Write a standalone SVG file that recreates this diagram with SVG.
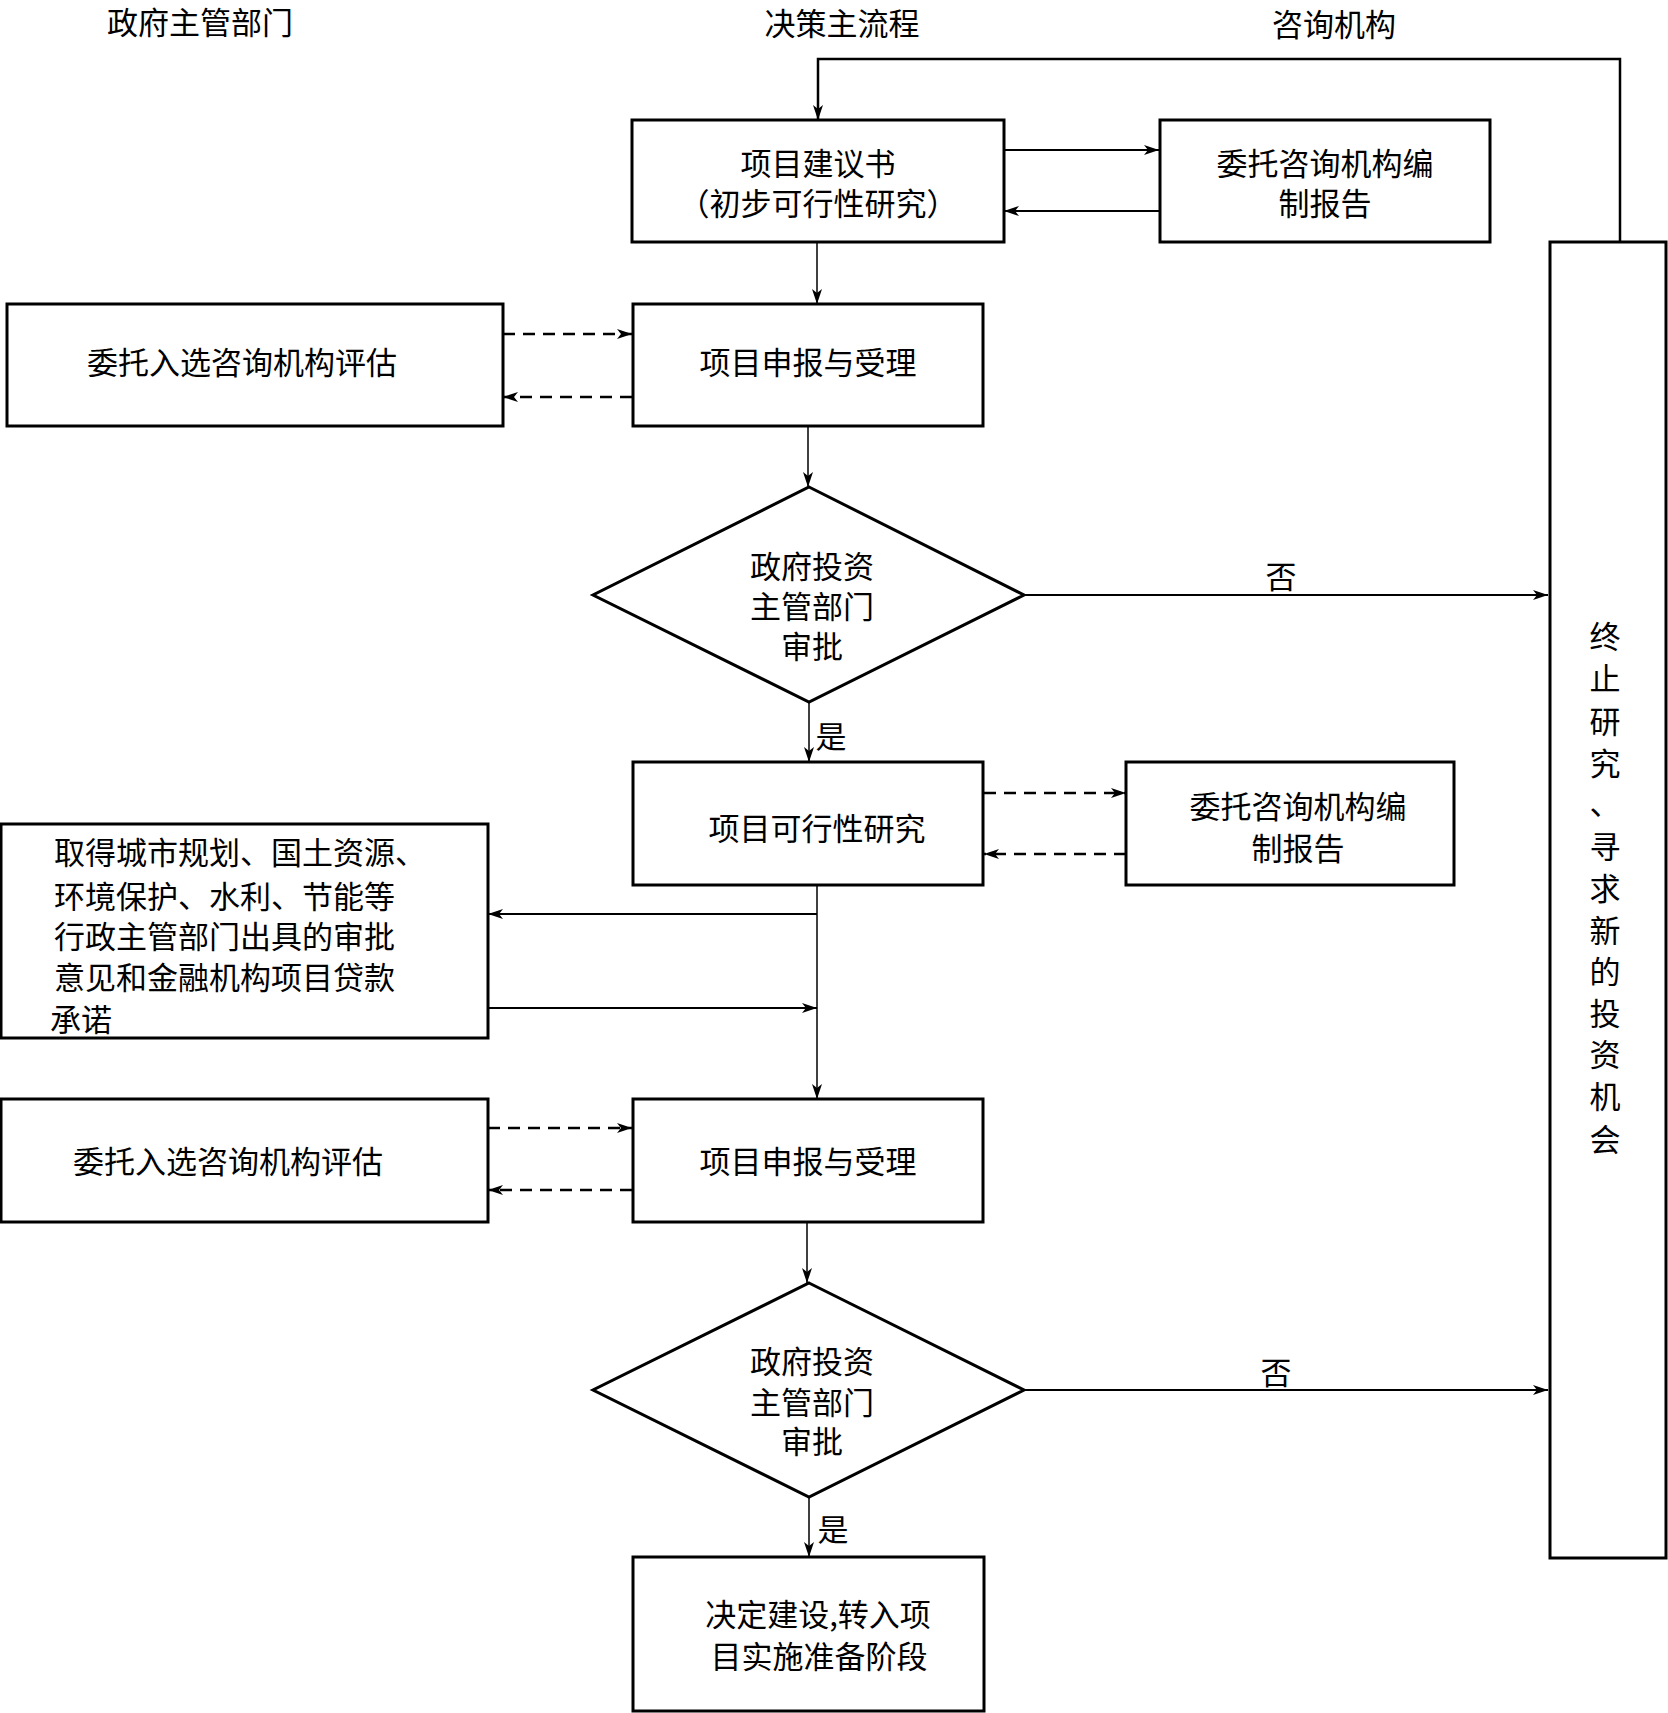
<svg xmlns="http://www.w3.org/2000/svg" width="1668" height="1713" viewBox="0 0 1668 1713">
<style>
.box{fill:#fff;stroke:#000;stroke-width:3}
.t{font-family:"Noto Sans CJK SC","Noto Sans",sans-serif;font-size:31px;fill:#000}
.c{text-anchor:middle}
.ln{fill:none;stroke:#000;stroke-width:2}
.thin{fill:none;stroke:#000;stroke-width:1.5}
.dash{fill:none;stroke:#000;stroke-width:2.5;stroke-dasharray:12 8}
</style>
<defs>
<marker id="a" markerUnits="userSpaceOnUse" markerWidth="16" markerHeight="10" refX="15" refY="5" orient="auto">
<path d="M0,0 L15,5 L0,10 L4,5 z" fill="#000"/>
</marker>
</defs>
<rect width="1668" height="1713" fill="#fff"/>

<g id="headers">
<text class="t c" x="200" y="34">政府主管部门</text>
<text class="t c" x="842" y="35">决策主流程</text>
<text class="t c" x="1334" y="36">咨询机构</text>
</g>

<g id="connectors">
<path class="ln" d="M1620,242 V59 H818 V120" marker-end="url(#a)" style="stroke-width:2.5"/>
<path class="ln" d="M1004,150 H1159" marker-end="url(#a)"/>
<path class="ln" d="M1159,211 H1004" marker-end="url(#a)"/>
<path class="thin" d="M817,242 V304" marker-end="url(#a)"/>
<path class="dash" d="M503,334 H632" marker-end="url(#a)"/>
<path class="dash" d="M632,397 H503" marker-end="url(#a)"/>
<path class="thin" d="M808,426 V487" marker-end="url(#a)"/>
<path class="ln" d="M1024,595 H1548" marker-end="url(#a)"/>
<path class="thin" d="M809,702 V762" marker-end="url(#a)"/>
<path class="dash" d="M984,793 H1126" marker-end="url(#a)"/>
<path class="dash" d="M1126,854 H984" marker-end="url(#a)"/>
<path class="thin" d="M817,885 V1099" marker-end="url(#a)"/>
<path class="ln" d="M817,914 H488" marker-end="url(#a)"/>
<path class="ln" d="M488,1008 H817" marker-end="url(#a)"/>
<path class="dash" d="M488,1128 H632" marker-end="url(#a)"/>
<path class="dash" d="M632,1190 H488" marker-end="url(#a)"/>
<path class="thin" d="M807,1222 V1283" marker-end="url(#a)"/>
<path class="ln" d="M1024,1390 H1548" marker-end="url(#a)"/>
<path class="thin" d="M809,1497 V1557" marker-end="url(#a)"/>
<text class="t c" x="1281" y="588">否</text>
<text class="t c" x="1276" y="1384">否</text>
<text class="t c" x="831" y="748">是</text>
<text class="t c" x="833" y="1541">是</text>
</g>

<g id="n1">
<rect class="box" x="632" y="120" width="372" height="122"/>
<text class="t c" x="818" y="175">项目建议书</text>
<text class="t c" x="818" y="215">（初步可行性研究）</text>
</g>
<g id="n2">
<rect class="box" x="1160" y="120" width="330" height="122"/>
<text class="t c" x="1325" y="175">委托咨询机构编</text>
<text class="t c" x="1325" y="215">制报告</text>
</g>
<g id="n3">
<rect class="box" x="1550" y="242" width="116" height="1316"/>
<text class="t c" x="1605" y="648">终<tspan x="1605" dy="42">止</tspan><tspan x="1605" dy="43">研</tspan><tspan x="1605" dy="42">究</tspan><tspan x="1605" dy="40">、</tspan><tspan x="1605" dy="43">寻</tspan><tspan x="1605" dy="42">求</tspan><tspan x="1605" dy="42">新</tspan><tspan x="1605" dy="41">的</tspan><tspan x="1605" dy="42">投</tspan><tspan x="1605" dy="41">资</tspan><tspan x="1605" dy="42">机</tspan><tspan x="1605" dy="43">会</tspan></text>
</g>
<g id="n4">
<rect class="box" x="7" y="304" width="496" height="122"/>
<text class="t c" x="242" y="374">委托入选咨询机构评估</text>
</g>
<g id="n5">
<rect class="box" x="633" y="304" width="350" height="122"/>
<text class="t c" x="808" y="374">项目申报与受理</text>
</g>
<g id="n6">
<polygon class="box" points="809,487 1024,595 809,702 593,595"/>
<text class="t c" x="812" y="578">政府投资</text>
<text class="t c" x="812" y="618">主管部门</text>
<text class="t c" x="812" y="658">审批</text>
</g>
<g id="n7">
<rect class="box" x="633" y="762" width="350" height="123"/>
<text class="t c" x="817" y="840">项目可行性研究</text>
</g>
<g id="n8">
<rect class="box" x="1126" y="762" width="328" height="123"/>
<text class="t c" x="1298" y="818">委托咨询机构编</text>
<text class="t c" x="1298" y="860">制报告</text>
</g>
<g id="n9">
<rect class="box" x="1" y="824" width="487" height="214"/>
<text class="t" x="54" y="864">取得城市规划、国土资源、</text>
<text class="t" x="54" y="908">环境保护、水利、节能等</text>
<text class="t" x="54" y="948">行政主管部门出具的审批</text>
<text class="t" x="54" y="989">意见和金融机构项目贷款</text>
<text class="t" x="50" y="1031">承诺</text>
</g>
<g id="n10">
<rect class="box" x="1" y="1099" width="487" height="123"/>
<text class="t c" x="228" y="1173">委托入选咨询机构评估</text>
</g>
<g id="n11">
<rect class="box" x="633" y="1099" width="350" height="123"/>
<text class="t c" x="808" y="1173">项目申报与受理</text>
</g>
<g id="n12">
<polygon class="box" points="809,1283 1024,1390 809,1497 593,1390"/>
<text class="t c" x="812" y="1373">政府投资</text>
<text class="t c" x="812" y="1414">主管部门</text>
<text class="t c" x="812" y="1453">审批</text>
</g>
<g id="n13">
<rect class="box" x="633" y="1557" width="351" height="154"/>
<text class="t c" x="818" y="1626">决定建设,转入项</text>
<text class="t c" x="819" y="1668">目实施准备阶段</text>
</g>
</svg>
